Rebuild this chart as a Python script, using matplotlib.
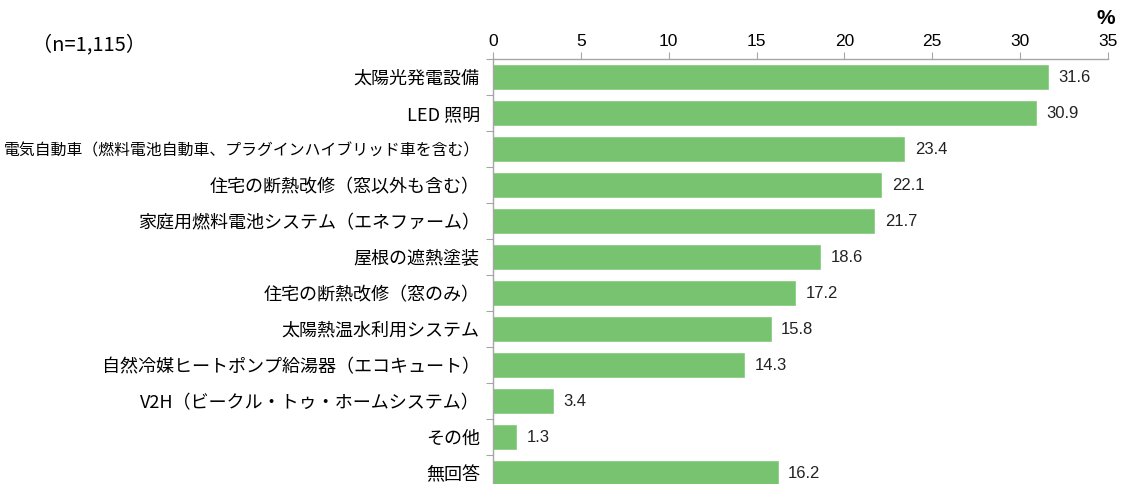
import matplotlib
matplotlib.use("Agg")
import matplotlib.pyplot as plt
from matplotlib import font_manager

# ---------- dados ----------
categorias = [
    "太陽光発電設備",
    "LED 照明",
    "電気自動車（燃料電池自動車、プラグインハイブリッド車を含む）",
    "住宅の断熱改修（窓以外も含む）",
    "家庭用燃料電池システム（エネファーム）",
    "屋根の遮熱塗装",
    "住宅の断熱改修（窓のみ）",
    "太陽熱温水利用システム",
    "自然冷媒ヒートポンプ給湯器（エコキュート）",
    "V2H（ビークル・トゥ・ホームシステム）",
    "その他",
    "無回答",
]
valores = [31.6, 30.9, 23.4, 22.1, 21.7, 18.6, 17.2, 15.8, 14.3, 3.4, 1.3, 16.2]
ticks_x = [0, 5, 10, 15, 20, 25, 30, 35]
n_amostra = "（n=1,115）"

# ---------- fontes ----------
jp = ["Noto Sans CJK JP", "DejaVu Sans"]
nomes = {f.name for f in font_manager.fontManager.ttflist}
num_font = "Liberation Sans Narrow" if "Liberation Sans Narrow" in nomes else "Liberation Sans"
plt.rcParams["font.family"] = jp

cor_barra = "#78C36F"
cor_eixo = "#A6A6A6"

fig = plt.figure(figsize=(11.25, 4.84), dpi=100)
ax = fig.add_axes([0.4382, -0.0145, 0.5467, 0.8926])

pos = list(range(len(categorias)))
ax.barh(pos, valores, height=0.66, color=cor_barra, edgecolor="#8CCD84", linewidth=0.6)
ax.set_ylim(len(categorias) - 0.5, -0.5)
ax.set_xlim(0, 35)

# rótulos de valor ao lado de cada barra
for y, v in zip(pos, valores):
    ax.text(v + 0.6, y, f"{v:.1f}", va="center", ha="left", fontsize=12,
            family=num_font, color="#222222")

# eixo x no topo
ax.xaxis.tick_top()
ax.set_xticks(ticks_x)
ax.set_xticklabels([str(t) for t in ticks_x], family=num_font, fontsize=12.5)
ax.tick_params(axis="x", direction="out", length=5, color=cor_eixo, pad=2)

# eixo y: marcas entre categorias, rótulos centrados
ax.set_yticks([p + 0.5 for p in pos[:-1]] + [-0.5], minor=False)
ax.set_yticklabels([])
ax.tick_params(axis="y", direction="out", length=5, color=cor_eixo)
ax.set_yticks(pos, minor=True)
rotulos = ax.set_yticklabels(categorias, minor=True, fontsize=13)
ax.tick_params(axis="y", which="minor", length=0, pad=9.5)
# o rótulo mais longo precisa caber na largura à esquerda
for r in rotulos:
    if len(r.get_text()) > 25:
        r.set_fontsize(11.4)

for lado in ["right", "bottom"]:
    ax.spines[lado].set_visible(False)
for lado in ["top", "left"]:
    ax.spines[lado].set_color(cor_eixo)
    ax.spines[lado].set_linewidth(1.0)

fig.text(1106 / 1125, 1 - 19 / 484, "%", ha="center", va="center",
         fontsize=15, family=num_font, fontweight="bold")
fig.text(32 / 1125, 1 - 45 / 484, n_amostra, ha="left", va="center", fontsize=14.5)

fig.savefig("out.png", dpi=100)
